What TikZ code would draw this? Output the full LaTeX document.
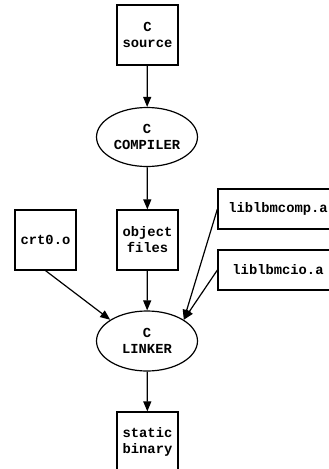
\documentclass[tikz,border=0pt]{standalone}
\usepackage{fontspec}
\setmonofont{Liberation Mono}
\usetikzlibrary{shapes.geometric,arrows.meta}
\tikzset{
  base/.style={draw, line width=1.2pt, font=\ttfamily\bfseries\fontsize{13.8}{16}\selectfont, align=center, inner sep=0pt},
  filebox/.style={base, rectangle, minimum width=61pt, minimum height=60pt},
  libbox/.style={base, rectangle, minimum width=120pt, minimum height=40pt},
  tool/.style={base, ellipse, minimum width=101pt, minimum height=59pt},
  flow/.style={line width=1.2pt, -{Triangle[length=10pt,width=8pt]}}
}
\begin{document}
\begin{tikzpicture}[x=1pt,y=-1pt]
  \useasboundingbox (0,0) rectangle (329,469);
  \node[filebox] (src) at (147.5,35) {C\\source};
  \node[tool] (comp) at (147,137) {C\\COMPILER};
  \node[filebox] (obj) at (147.5,240) {object\\files};
  \node[filebox] (crt) at (45.5,240) {crt0.o};
  \node[libbox] (lcomp) at (278,209) {liblbmcomp.a};
  \node[libbox] (lcio) at (278,270) {liblbmcio.a};
  \node[tool, minimum height=60pt] (link) at (147,341) {C\\LINKER};
  \node[filebox] (bin) at (147.5,442) {static\\binary};

  \draw[flow] (src) -- (comp);
  \draw[flow] (comp) -- (obj);
  \draw[flow] (obj) -- (link);
  \draw[flow] (crt.south) -- (link.150);
  \draw[flow] (lcomp.west) -- (link.30);
  \draw[flow] (lcio.west) -- (link.30);
  \draw[flow] (link) -- (bin);
\end{tikzpicture}
\end{document}
